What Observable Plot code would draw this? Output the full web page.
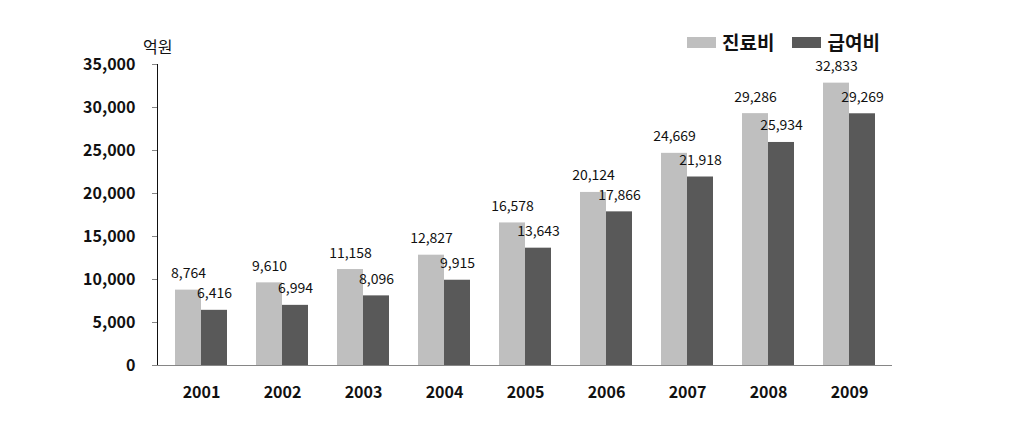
<!DOCTYPE html>
<html>
<head>
<meta charset="utf-8">
<script src="https://cdn.jsdelivr.net/npm/d3@7"></script>
<script src="https://cdn.jsdelivr.net/npm/@observablehq/plot@0.6"></script>
<style>
  html, body { margin: 0; padding: 0; background: #fff; }
  #wrap { position: relative; width: 1011px; height: 425px; font-family: "Noto Sans CJK KR", "Noto Sans", sans-serif; }
  #unit { position: absolute; left: 143px; top: 36px; font-size: 16px; color: #111; line-height: 20px; }
  #legend { position: absolute; left: 687px; top: 30px; display: flex; align-items: center; font-size: 19px; font-weight: bold; color: #111; line-height: 24px; }
  #legend .sw { width: 29px; height: 11px; display: inline-block; margin-right: 6px; }
  #legend .item { display: flex; align-items: center; margin-right: 18px; }
</style>
</head>
<body>
<div id="wrap">
  <div id="chart"></div>
  <div id="unit"></div>
  <div id="legend"></div>
</div>
<script>
const years = ["2001","2002","2003","2004","2005","2006","2007","2008","2009"];
const seriesNames = ["진료비", "급여비"];
const medicalCost = [8764, 9610, 11158, 12827, 16578, 20124, 24669, 29286, 32833];
const benefitCost = [6416, 6994, 8096, 9915, 13643, 17866, 21918, 25934, 29269];
const yTicks = [0, 5000, 10000, 15000, 20000, 25000, 30000, 35000];
const unitLabel = "억원";
const colors = ["#bfbfbf", "#595959"];

const fmt = d3.format(",");
const dataA = years.map((y, i) => ({year: y, value: medicalCost[i]}));
const dataB = years.map((y, i) => ({year: y, value: benefitCost[i]}));

const font = '"Noto Sans CJK KR", "Noto Sans", sans-serif';

const chart = Plot.plot({
  width: 1011,
  height: 425,
  marginLeft: 157,
  marginRight: 119,
  marginTop: 64,
  marginBottom: 60,
  style: {fontFamily: font, background: "#fff", color: "#111"},
  x: {domain: years, paddingInner: 0.362, paddingOuter: 0.181, label: null, tickSize: 0, tickPadding: 21},
  y: {domain: [0, 35000], ticks: yTicks, tickFormat: fmt, label: null, tickSize: 5, tickPadding: 17, line: true},
  marks: [
    Plot.barY(dataA, {x: "year", y: "value", fill: colors[0], insetRight: 26, insetLeft: 0}),
    Plot.barY(dataB, {x: "year", y: "value", fill: colors[1], insetLeft: 26, insetRight: 0}),
    Plot.ruleY([0], {stroke: "#868686", strokeWidth: 1, insetLeft: -5}),
    Plot.text(dataA, {x: "year", y: "value", text: d => fmt(d.value), dx: -13, dy: -12, lineAnchor: "bottom", fontSize: 14, fill: "#111"}),
    Plot.text(dataB, {x: "year", y: "value", text: d => fmt(d.value), dx: 13, dy: -12, lineAnchor: "bottom", fontSize: 14, fill: "#111"})
  ]
});

chart.querySelectorAll('[aria-label="y-axis tick label"] text, [aria-label="x-axis tick label"] text').forEach(t => {
  t.setAttribute("font-weight", "bold");
  t.setAttribute("font-size", "16");
  t.setAttribute("fill", "#111");
});
chart.querySelectorAll('[aria-label^="y-axis"] path').forEach(p => p.setAttribute("stroke", "#868686"));

document.getElementById("chart").appendChild(chart);
document.getElementById("unit").textContent = unitLabel;
const legend = document.getElementById("legend");
seriesNames.forEach((name, i) => {
  const item = document.createElement("span");
  item.className = "item";
  const sw = document.createElement("span");
  sw.className = "sw";
  sw.style.background = colors[i];
  const tx = document.createElement("span");
  tx.textContent = name;
  item.appendChild(sw);
  item.appendChild(tx);
  legend.appendChild(item);
});
</script>
</body>
</html>
